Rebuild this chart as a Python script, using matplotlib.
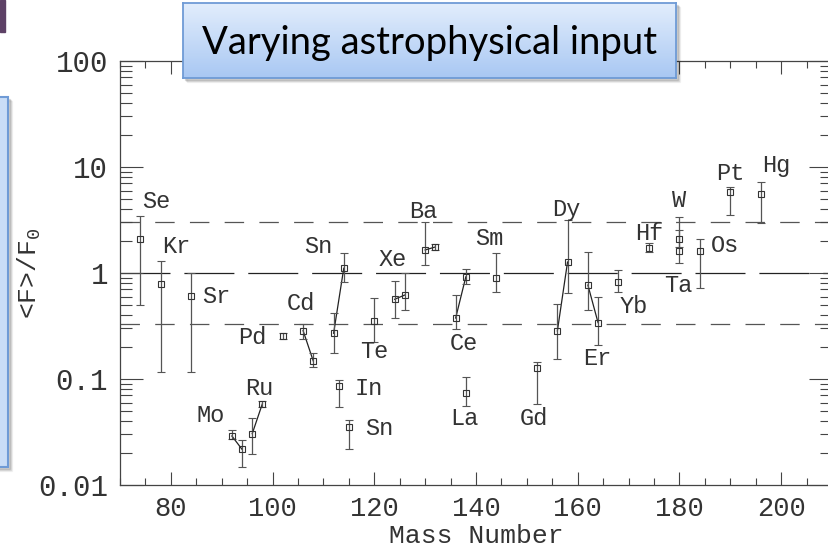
import matplotlib
matplotlib.use('Agg')
import matplotlib.pyplot as plt
import numpy as np
from matplotlib.patches import Rectangle
from matplotlib.ticker import MultipleLocator, LogLocator, FuncFormatter, NullFormatter

plt.rcParams['font.family'] = 'Liberation Mono'
plt.rcParams['mathtext.fontset'] = 'custom'
plt.rcParams['mathtext.rm'] = 'Liberation Mono'
plt.rcParams['mathtext.it'] = 'Liberation Mono'
plt.rcParams['lines.scale_dashes'] = False

# <F>/F0 per isotope, with lower / upper ends of the uncertainty band
mass = [74, 78, 84, 92, 94, 96, 98, 102, 106, 108, 112, 114, 113, 115, 120,
        124, 126, 130, 132, 136, 138, 138, 144, 152, 156, 158, 162, 164, 168,
        174, 180, 180, 184, 190, 196]
ratio = [2.09, 0.79, 0.61, 0.029, 0.0217, 0.0305, 0.0585, 0.255, 0.286, 0.148,
         0.27, 1.11, 0.085, 0.035, 0.35, 0.565, 0.62, 1.65, 1.76, 0.376,
         0.92, 0.0743, 0.90, 0.127, 0.284, 1.27, 0.77, 0.34, 0.817, 1.73,
         2.09, 1.60, 1.60, 5.85, 5.56]
lower = [0.50, 0.116, 0.116, 0.027, 0.0147, 0.0196, 0.055, 0.238, 0.24, 0.13,
         0.177, 0.83, 0.054, 0.022, 0.222, 0.38, 0.448, 1.19, 1.65, 0.296,
         0.78, 0.056, 0.657, 0.058, 0.153, 0.643, 0.448, 0.209, 0.657, 1.58,
         1.75, 1.23, 0.727, 3.53, 2.94]
upper = [3.45, 1.29, 1.0, 0.033, 0.0266, 0.043, 0.062, 0.273, 0.328, 0.177,
         0.42, 1.53, 0.098, 0.041, 0.577, 0.84, 1.01, 3.05, 1.88, 0.62,
         1.10, 0.105, 1.53, 0.146, 0.507, 3.16, 1.58, 0.598, 1.07, 1.90,
         3.40, 2.55, 2.09, 6.52, 7.27]
# neighbouring isotopes of one element are joined by a line
chain = ['', '', '', 'Mo', 'Mo', 'Ru', 'Ru', '', 'Cd', 'Cd', 'Sn', 'Sn', '', '', '',
         'Xe', 'Xe', 'Ba', 'Ba', 'Ce', 'Ce', '', '', '', 'Dy', 'Dy', 'Er', 'Er', '',
         '', '', '', '', '', '']

# element names written next to the points
label_text = ['Se', 'Kr', 'Sr', 'Mo', 'Ru', 'Pd', 'Cd', 'Sn', 'In', 'Sn', 'Te',
              'Xe', 'Ba', 'Ce', 'La', 'Sm', 'Gd', 'Dy', 'Er', 'Yb', 'Hf', 'W',
              'Ta', 'Os', 'Pt', 'Hg']
label_x = [74.3, 78.2, 86.1, 85.1, 94.7, 93.2, 102.8, 106.2, 116.2, 118.2, 117.2,
           120.9, 126.9, 134.9, 135.0, 139.8, 148.7, 154.9, 161.1, 168.3, 171.3,
           178.5, 177.0, 186.2, 187.2, 196.2]
label_y = [4.68, 1.77, 0.598, 0.0457, 0.0817, 0.244, 0.518, 1.77, 0.0817, 0.0338,
           0.181, 1.33, 3.79, 0.217, 0.0426, 2.12, 0.0426, 3.93, 0.157, 0.481,
           2.37, 4.88, 0.77, 1.80, 8.72, 10.4]

mass = np.array(mass, dtype=float)
ratio = np.array(ratio)
lower = np.array(lower)
upper = np.array(upper)

ink = '#333333'
fig = plt.figure(figsize=(8.29, 5.5), dpi=100)
ax = fig.add_axes([120 / 829, 65 / 550, 712 / 829, 424 / 550])
ax.set_yscale('log')
ax.set_xlim(70, 210)
ax.set_ylim(0.01, 100)

# reference levels: unchanged flux and a factor of three either way
ax.axhline(1, color='#222222', lw=0.9, dashes=(36, 10), zorder=1)
for lvl in (3, 1 / 3):
    ax.axhline(lvl, color='#555555', lw=0.9, dashes=(14, 11), zorder=1)

for name in dict.fromkeys(c for c in chain if c):
    idx = [i for i, c in enumerate(chain) if c == name]
    ax.plot(mass[idx], ratio[idx], color='#222222', lw=0.9, zorder=2)

ax.errorbar(mass, ratio, yerr=[ratio - lower, upper - ratio], fmt='s', ms=4.5,
            mfc='none', mec=ink, mew=0.8, ecolor='#555555', elinewidth=0.9,
            capsize=3, capthick=0.9, zorder=3)

for t, x, y in zip(label_text, label_x, label_y):
    ax.text(x, y, t, fontsize=17, color=ink, ha='left', va='center')

ax.xaxis.set_major_locator(MultipleLocator(20))
ax.xaxis.set_minor_locator(MultipleLocator(5))
ax.yaxis.set_major_locator(LogLocator(base=10))
ax.yaxis.set_minor_locator(LogLocator(base=10, subs=np.arange(2, 10)))
ax.yaxis.set_major_formatter(FuncFormatter(lambda v, _: f'{v:g}'))
ax.yaxis.set_minor_formatter(NullFormatter())

ax.tick_params(axis='both', which='both', direction='in', top=True, right=True,
               colors='#444444', labelcolor=ink, width=0.8)
ax.tick_params(axis='x', which='major', length=9.5, pad=8, labelsize=19.5)
ax.tick_params(axis='x', which='minor', length=4.7)
ax.tick_params(axis='y', which='major', length=16.5, pad=8.5, labelsize=21)
ax.tick_params(axis='y', which='minor', length=8.6)
for sp in ax.spines.values():
    sp.set_color('#444444')
    sp.set_linewidth(0.9)

ax.set_xlabel('Mass Number', fontsize=19, color=ink, va='baseline')
ax.xaxis.set_label_coords(0.5, -(543 - 485) / 424)
ax.set_ylabel(r'<F>/F$_0$', fontsize=19, color=ink)
ax.yaxis.set_label_coords(-0.108, 0.5)

# slide decorations: title callout, side panel and corner block
def shadow(x0, y0, w, h):
    for k, a in enumerate([0.10, 0.07, 0.04]):
        d = (k + 2) / 829
        fig.patches.append(Rectangle((x0 + d, y0 - d * 829 / 550), w, h,
                                     transform=fig.transFigure, color='black',
                                     alpha=a, zorder=5))

shadow(-0.02, 83 / 550, 24.5 / 829, 370 / 550)
fig.patches.append(Rectangle((-0.02, 83 / 550), 24.5 / 829, 370 / 550,
                             transform=fig.transFigure, facecolor='#c9ddf7',
                             edgecolor='#6f9bd6', lw=1.5, zorder=6))
fig.patches.append(Rectangle((0, 518 / 550), 5 / 829, 32 / 550,
                             transform=fig.transFigure, color='#5d4166', zorder=6))

bx, by, bw, bh = 183 / 829, 472 / 550, 493 / 829, 75 / 550
shadow(bx, by, bw, bh)
tax = fig.add_axes([bx, by, bw, bh], zorder=10)
grad = np.linspace(0, 1, 64)[:, None]
tax.imshow(grad, aspect='auto', extent=[0, 1, 0, 1], origin='upper',
           cmap=matplotlib.colors.LinearSegmentedColormap.from_list(
               'box', ['#e2edfc', '#a9c8f3']))
tax.set_xticks([])
tax.set_yticks([])
for sp in tax.spines.values():
    sp.set_color('#6f9bd6')
    sp.set_linewidth(1.3)
tax.text(0.5, 0.47, 'Varying astrophysical input', transform=tax.transAxes,
         ha='center', va='center', fontsize=27.5, family='Lato', color='black')

fig.savefig('out.png', dpi=100)
